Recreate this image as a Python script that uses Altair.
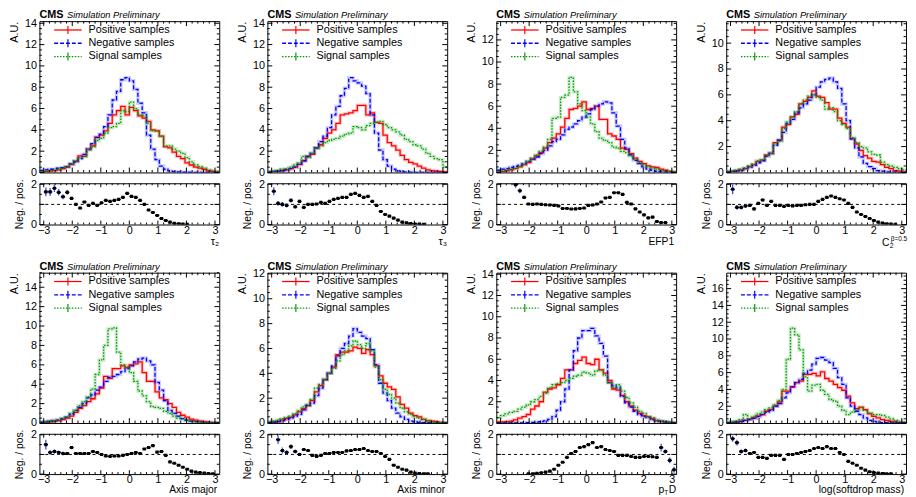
import altair as alt
import pandas as pd

FONT = "Liberation Sans"
RED = "#ff0000"
BLUE = "#0000ff"
GREEN = "#009a00"
RBLUE = "#3355ff"

W = 183
X_DOMAIN = [-3.15, 3.15]
BIN_W = 0.15
BIN_LEFT = [round(-3.15 + BIN_W * k, 3) for k in range(42)]
X_MAJOR = [-3, -2, -1, 0, 1, 2, 3]
X_MINOR = [v / 5 for v in range(-15, 16) if v % 5 != 0]

LEGEND_LABELS = ["Positive samples", "Negative samples", "Signal samples"]

# ---------------- tau2 ----------------
TAU2_POS = [0.05, 0.08, 0.12, 0.18, 0.25, 0.35, 0.5, 0.75, 1.05, 1.55, 1.5, 2.2, 2.5, 3.3, 3.5, 3.9, 4.6, 5.4, 5.8, 6.2, 5.4,
            6.1, 5.8, 5.3, 5.1, 4.8, 4.0, 3.9, 3.4, 2.4, 2.3, 1.9, 1.5, 1.3, 0.9, 0.7, 0.5, 0.4, 0.3, 0.15, 0.1, 0.05]
TAU2_NEG = [0.2, 0.25, 0.3, 0.3, 0.4, 0.45, 0.55, 0.8, 1.0, 1.3, 1.7, 2.2, 2.7, 3.3, 3.6, 4.3, 5.4, 6.8, 7.6, 8.7, 8.9,
            8.6, 7.8, 6.5, 5.6, 3.5, 2.2, 1.2, 0.6, 0.3, 0.15, 0.08, 0.05, 0.03, 0.02, 0.01, 0.01, 0.01, 0.0, 0.0, 0.0, 0.0]
TAU2_SIG = [0.1, 0.12, 0.18, 0.25, 0.3, 0.4, 0.55, 0.8, 1.1, 1.4, 1.5, 2.1, 2.4, 3.0, 3.2, 3.7, 4.2, 4.3, 4.6, 5.8, 5.7,
            6.6, 6.0, 5.4, 5.3, 4.6, 3.9, 3.9, 3.4, 2.5, 2.5, 2.2, 2.0, 1.8, 1.4, 1.0, 0.7, 0.55, 0.4, 0.25, 0.15, 0.1]
TAU2_RATIO = [None, 1.62, 1.62, 1.8, 1.6, 1.38, 1.6, 1.3, 1.0, 0.82, 1.12, 0.95, 1.05, 0.95, 1.08, 1.2, 1.15, 1.2, 1.25, 1.35, 1.55,
              1.4, 1.35, 1.2, 1.0, 0.72, 0.6, 0.45, 0.3, 0.2, 0.12, 0.06, 0.04, 0.02, 0.01, None, None, None, None, None, None, None]
TAU2_ERR = [0, .22, .2, .18, .16, .12, .12, .08, .07, .06, .05, .05, .04, .04, .04, .03, .03, .03, .03, .03, .03,
            .03, .03, .03, .03, .03, .02, .02, .02, .02, .02, .01, .01, .01, .01, .01, .01, .01, .01, .01, .01, .01]

# ---------------- tau3 ----------------
TAU3_POS = [0.05, 0.08, 0.12, 0.18, 0.25, 0.35, 0.5, 0.75, 1.1, 1.5, 1.7, 2.3, 2.6, 3.2, 3.7, 4.0, 4.6, 5.4, 5.5, 5.6, 5.8,
            6.3, 6.3, 5.4, 5.6, 4.7, 4.6, 3.5, 2.8, 2.5, 2.1, 1.6, 1.2, 0.95, 0.8, 0.6, 0.4, 0.25, 0.18, 0.12, 0.1, 0.05]
TAU3_NEG = [0.05, 0.1, 0.12, 0.18, 0.25, 0.35, 0.5, 0.75, 1.1, 1.5, 1.8, 2.3, 2.9, 3.4, 4.2, 5.4, 6.2, 7.2, 7.9, 8.9, 8.6,
            8.4, 8.1, 7.4, 5.4, 3.7, 2.1, 1.2, 0.6, 0.3, 0.15, 0.07, 0.04, 0.02, 0.01, 0.01, 0.0, 0.0, 0.0, 0.0, 0.0, 0.0]
TAU3_SIG = [0.08, 0.12, 0.18, 0.3, 0.35, 0.5, 0.7, 0.9, 1.5, 1.4, 1.8, 2.3, 2.5, 2.8, 3.0, 3.1, 3.2, 3.4, 3.6, 3.7, 4.3,
            4.2, 4.0, 4.4, 4.6, 4.7, 4.8, 4.5, 4.2, 4.0, 3.8, 3.5, 3.1, 2.9, 2.6, 2.5, 2.2, 1.8, 1.5, 1.3, 1.2, 0.5]
TAU3_RATIO = [None, 1.65, 1.05, 1.0, 0.95, 1.2, 0.88, 1.15, 0.85, 1.0, 1.0, 1.02, 1.1, 1.05, 1.15, 1.25, 1.3, 1.35, 1.35, 1.5, 1.55,
              1.45, 1.35, 1.4, 1.15, 0.95, 0.65, 0.5, 0.42, 0.32, 0.22, 0.12, 0.08, 0.05, 0.03, 0.02, 0.01, None, None, None, None, None]
TAU3_ERR = [0, .2, .12, .12, .1, .1, .1, .08, .06, .05, .05, .04, .04, .04, .03, .03, .03, .03, .03, .03, .03,
            .03, .03, .03, .03, .02, .02, .02, .02, .02, .01, .01, .01, .01, .01, .01, .01, .01, .01, .01, .01, .01]

# ---------------- EFP1 ----------------
EFP1_POS = [0.05, 0.08, 0.15, 0.25, 0.35, 0.5, 0.7, 0.9, 1.2, 1.5, 1.8, 2.2, 2.7, 3.1, 3.5, 4.1, 4.9, 5.7, 5.8, 6.0, 6.4,
            5.7, 5.8, 6.0, 4.8, 4.8, 3.5, 3.3, 3.0, 2.2, 2.1, 1.7, 1.3, 1.0, 0.8, 0.6, 0.5, 0.45, 0.3, 0.2, 0.1, 0.05]
EFP1_NEG = [0.2, 0.3, 0.35, 0.45, 0.55, 0.65, 0.8, 1.0, 1.2, 1.4, 1.7, 2.0, 2.4, 2.8, 3.0, 3.4, 3.9, 4.1, 4.4, 4.7, 5.0,
            5.3, 5.7, 6.0, 6.2, 6.4, 6.3, 5.4, 4.2, 3.0, 2.2, 1.6, 1.1, 0.8, 0.5, 0.3, 0.2, 0.1, 0.05, 0.03, 0.02, 0.01]
EFP1_SIG = [0.1, 0.15, 0.2, 0.3, 0.4, 0.55, 0.75, 1.0, 1.3, 1.6, 1.9, 2.3, 3.0, 4.9, 5.0, 6.8, 7.0, 8.6, 7.3, 6.2, 5.6,
            5.0, 4.4, 3.7, 3.1, 2.9, 2.7, 2.3, 2.2, 1.9, 1.8, 1.5, 1.2, 0.9, 0.7, 0.5, 0.4, 0.3, 0.2, 0.15, 0.1, 0.05]
EFP1_RATIO = [None, None, None, None, 1.98, 1.68, 1.35, 1.02, 1.0, 1.02, 1.0, 0.98, 0.97, 0.95, 0.92, 0.8, 0.8, 0.77, 0.78, 0.8, 0.82,
              0.95, 0.97, 1.02, 1.12, 1.32, 1.35, 1.58, 1.58, 1.5, 1.1, 1.02, 0.78, 0.62, 0.48, 0.33, 0.37, 0.15, 0.1, 0.1, None, None]
EFP1_ERR = [0, 0, 0, 0, .15, .12, .08, .05, .04, .04, .03, .03, .03, .03, .03, .03, .03, .03, .03, .03, .03,
            .03, .03, .03, .03, .03, .03, .03, .03, .03, .03, .03, .03, .03, .03, .03, .03, .02, .02, .02, .01, .01]

# ---------------- C2 beta=0.5 ----------------
C2_POS = [0.05, 0.08, 0.12, 0.2, 0.3, 0.45, 0.6, 0.85, 0.95, 1.35, 1.45, 2.3, 2.5, 3.5, 3.7, 4.3, 4.5, 5.3, 5.5, 5.8, 6.3,
          5.9, 5.8, 5.4, 4.9, 4.9, 4.2, 3.8, 3.5, 2.6, 2.2, 1.7, 1.3, 1.1, 0.85, 0.8, 0.6, 0.4, 0.3, 0.15, 0.1, 0.05]
C2_NEG = [0.05, 0.08, 0.12, 0.18, 0.28, 0.4, 0.55, 0.75, 0.9, 1.25, 1.5, 2.1, 2.5, 3.1, 3.8, 4.1, 4.6, 5.0, 5.3, 5.6, 6.0,
          6.6, 7.0, 7.2, 7.3, 7.0, 6.5, 5.3, 4.0, 2.6, 1.9, 1.2, 0.7, 0.45, 0.3, 0.15, 0.1, 0.05, 0.03, 0.02, 0.01, 0.01]
C2_SIG = [0.1, 0.12, 0.18, 0.25, 0.35, 0.5, 0.65, 0.9, 1.0, 1.3, 1.5, 2.2, 2.4, 3.4, 3.9, 4.3, 4.7, 5.3, 5.6, 5.9, 6.0,
          5.8, 5.6, 4.9, 5.0, 4.7, 4.0, 3.7, 3.4, 2.7, 2.3, 2.0, 1.9, 1.6, 1.4, 1.35, 0.8, 0.6, 0.5, 0.4, 0.3, 0.2]
C2_RATIO = [None, 1.75, 0.85, 0.85, 0.92, 0.95, 0.78, 1.05, 1.22, 0.95, 1.15, 0.95, 0.95, 0.9, 0.95, 0.92, 0.95, 0.95, 0.98, 1.0, 1.0,
            1.15, 1.25, 1.35, 1.42, 1.35, 1.28, 1.22, 1.05, 0.85, 0.62, 0.5, 0.4, 0.3, 0.2, 0.12, 0.07, 0.04, 0.02, 0.01, None, None]
C2_ERR = [0, .25, .12, .1, .1, .08, .08, .07, .06, .05, .05, .04, .04, .03, .03, .03, .03, .03, .03, .03, .03,
          .03, .03, .03, .03, .03, .03, .03, .03, .02, .02, .02, .02, .02, .01, .01, .01, .01, .01, .01, .01, .01]

# ---------------- Axis major ----------------
AXMAJ_POS = [0.05, 0.08, 0.12, 0.18, 0.25, 0.35, 0.5, 0.7, 1.1, 1.5, 1.8, 2.2, 2.5, 3.0, 3.6, 4.8, 4.6, 5.6, 5.6, 5.9, 5.7,
             6.0, 6.1, 6.3, 5.2, 4.3, 4.3, 3.2, 2.6, 2.4, 2.0, 1.6, 1.1, 0.8, 0.6, 0.4, 0.3, 0.2, 0.15, 0.1, 0.05, 0.03]
AXMAJ_NEG = [0.08, 0.12, 0.18, 0.25, 0.3, 0.45, 0.6, 0.9, 1.3, 1.6, 2.0, 2.6, 2.9, 3.4, 3.7, 4.3, 4.7, 4.8, 5.0, 5.3, 5.6,
             5.9, 6.3, 6.6, 6.7, 6.4, 6.0, 4.2, 3.4, 2.3, 1.3, 1.0, 0.7, 0.45, 0.3, 0.2, 0.15, 0.1, 0.05, 0.03, 0.02, 0.01]
AXMAJ_SIG = [0.08, 0.12, 0.18, 0.25, 0.35, 0.5, 0.6, 1.0, 1.3, 1.8, 2.2, 2.7, 3.5, 5.0, 6.5, 8.0, 9.7, 9.8, 7.3, 6.0, 5.8,
             5.2, 4.3, 3.3, 2.8, 2.2, 1.7, 1.6, 1.5, 1.2, 1.0, 0.7, 0.5, 0.4, 0.3, 0.2, 0.15, 0.1, 0.05, 0.03, 0.02, 0.01]
AXMAJ_RATIO = [None, 1.5, 1.1, 1.15, 1.1, 1.05, 1.05, 1.35, 1.05, 1.05, 1.05, 1.05, 1.15, 1.1, 1.0, 0.92, 0.9, 0.92, 0.92, 0.95, 1.0,
               1.05, 1.1, 1.05, 1.28, 1.35, 1.45, 1.12, 1.15, 0.95, 0.62, 0.55, 0.45, 0.35, 0.25, 0.15, 0.1, 0.08, 0.05, 0.03, 0.02, None]
AXMAJ_ERR = [0, .25, .12, .12, .1, .1, .08, .08, .06, .05, .05, .04, .04, .03, .03, .03, .03, .03, .03, .03, .03,
             .03, .03, .03, .03, .03, .03, .03, .03, .02, .02, .02, .02, .02, .01, .01, .01, .01, .01, .01, .01, .01]

# ---------------- Axis minor ----------------
AXMIN_POS = [0.05, 0.08, 0.12, 0.25, 0.35, 0.45, 0.65, 0.9, 1.15, 1.4, 1.8, 2.5, 3.0, 3.5, 4.0, 4.5, 5.5, 5.7, 5.7, 5.8, 6.1,
             6.0, 5.6, 5.9, 5.5, 4.6, 3.8, 3.2, 2.9, 2.7, 2.1, 1.5, 1.2, 0.8, 0.6, 0.5, 0.3, 0.2, 0.15, 0.1, 0.05, 0.03]
AXMIN_NEG = [0.05, 0.08, 0.12, 0.2, 0.3, 0.4, 0.55, 0.7, 1.05, 1.4, 1.6, 2.2, 2.8, 3.5, 4.0, 4.6, 5.4, 6.0, 6.4, 7.0, 7.6,
             7.3, 7.0, 6.8, 5.9, 4.7, 3.2, 2.4, 1.8, 1.2, 0.8, 0.5, 0.3, 0.15, 0.1, 0.05, 0.03, 0.02, 0.01, 0.01, 0.0, 0.0]
AXMIN_SIG = [0.1, 0.15, 0.25, 0.35, 0.45, 0.55, 0.75, 1.0, 1.3, 1.5, 1.9, 2.8, 3.1, 3.5, 4.0, 4.4, 5.0, 5.5, 5.8, 6.2, 6.6,
             6.3, 6.0, 6.4, 5.8, 4.5, 3.5, 2.7, 2.3, 2.0, 1.6, 1.2, 0.9, 0.7, 0.5, 0.4, 0.3, 0.2, 0.1, 0.05, 0.03, 0.02]
AXMIN_RATIO = [None, None, 1.75, 1.2, 1.1, 1.4, 1.15, 1.0, 1.25, 1.2, 0.95, 0.9, 0.95, 1.05, 1.05, 1.1, 1.1, 1.1, 1.18, 1.2, 1.25,
               1.25, 1.3, 1.2, 1.15, 1.15, 1.05, 0.9, 0.75, 0.45, 0.35, 0.25, 0.2, 0.1, 0.05, 0.03, 0.02, 0.01, None, None, None, None]
AXMIN_ERR = [0, 0, .22, .15, .12, .12, .1, .08, .07, .06, .05, .04, .04, .03, .03, .03, .03, .03, .03, .03, .03,
             .03, .03, .03, .03, .03, .03, .03, .03, .02, .02, .02, .02, .02, .01, .01, .01, .01, .01, .01, .01, .01]

# ---------------- pT D ----------------
PTD_POS = [0.1, 0.1, 0.12, 0.18, 0.3, 0.45, 0.6, 0.8, 1.3, 1.6, 2.0, 2.9, 3.2, 3.3, 3.6, 4.2, 5.0, 5.0, 5.6, 5.9, 6.2,
           5.6, 5.5, 6.0, 5.0, 4.7, 4.0, 3.2, 3.1, 2.6, 2.0, 1.6, 1.2, 0.9, 0.7, 0.6, 0.4, 0.2, 0.15, 0.1, 0.05, 0.02]
PTD_NEG = [0.0, 0.0, 0.0, 0.0, 0.0, 0.01, 0.02, 0.03, 0.05, 0.08, 0.12, 0.2, 0.35, 0.6, 1.2, 2.0, 3.2, 5.0, 6.8, 8.0, 8.7,
           8.7, 8.9, 8.2, 7.5, 6.3, 3.8, 3.5, 3.3, 2.5, 1.9, 1.5, 1.1, 0.8, 0.6, 0.5, 0.3, 0.2, 0.15, 0.1, 0.05, 0.02]
PTD_SIG = [0.5, 0.7, 0.85, 1.0, 1.1, 1.3, 1.5, 1.7, 2.0, 2.2, 2.5, 2.8, 3.3, 3.6, 3.7, 3.8, 4.0, 4.2, 4.4, 4.5, 4.8,
           4.7, 4.5, 4.9, 5.0, 4.5, 3.8, 3.3, 3.6, 3.0, 2.4, 1.9, 1.5, 1.1, 0.9, 0.6, 0.5, 0.3, 0.2, 0.1, 0.05, 0.03]
PTD_RATIO = [None, None, None, None, None, None, None, 0.01, 0.02, 0.04, 0.07, 0.1, 0.15, 0.25, 0.45, 0.6, 0.85, 1.05, 1.15, 1.35, 1.4,
             1.5, 1.6, 1.35, 1.4, 1.25, 1.2, 1.15, 0.95, 0.95, 0.95, 0.9, 0.85, 0.85, 0.9, 0.9, 0.88, 0.85, 1.35, 1.15, 0.7, 0.22]
PTD_ERR = [0, 0, 0, 0, 0, 0, 0, .01, .01, .01, .01, .02, .02, .02, .02, .03, .03, .03, .03, .03, .03,
           .03, .03, .03, .03, .03, .03, .03, .03, .03, .03, .03, .03, .04, .04, .05, .06, .08, .2, .12, .15, .15]

# ---------------- log(softdrop mass) ----------------
SD_POS = [0.05, 0.08, 0.12, 0.2, 0.3, 0.45, 0.6, 0.85, 1.0, 1.4, 1.6, 2.0, 2.5, 3.8, 3.8, 4.3, 4.8, 5.0, 5.8, 5.8, 5.9,
          5.6, 6.1, 5.3, 5.0, 4.6, 4.2, 3.9, 3.2, 2.4, 1.7, 1.9, 1.6, 1.1, 0.8, 0.6, 0.4, 0.3, 0.2, 0.1, 0.05, 0.03]
SD_NEG = [0.05, 0.08, 0.12, 0.2, 0.3, 0.4, 0.55, 0.75, 1.0, 1.3, 1.5, 2.0, 2.3, 3.0, 3.6, 4.3, 4.8, 5.2, 5.9, 6.3, 7.0,
          7.7, 7.8, 7.5, 7.2, 6.5, 5.4, 4.6, 3.0, 2.0, 1.4, 1.0, 0.6, 0.3, 0.2, 0.1, 0.05, 0.03, 0.02, 0.01, 0.01, 0.0]
SD_SIG = [0.1, 0.15, 0.2, 0.4, 1.0, 0.5, 0.8, 1.1, 1.3, 1.6, 1.8, 2.2, 2.7, 4.0, 7.6, 11.3, 10.5, 8.7, 5.5, 3.8, 4.5,
          4.6, 3.9, 3.4, 2.8, 2.6, 2.0, 1.5, 1.0, 1.3, 1.6, 1.8, 1.5, 1.2, 1.0, 1.0, 0.9, 0.7, 0.5, 0.3, 0.2, 0.1]
SD_RATIO = [None, 1.8, 1.6, 1.15, 1.2, 1.05, 1.1, 0.85, 0.85, 0.8, 0.95, 0.95, 0.95, 0.75, 1.0, 1.0, 1.05, 1.1, 1.15, 1.2, 1.3,
            1.35, 1.3, 1.4, 1.3, 1.3, 1.1, 1.0, 0.65, 0.55, 0.45, 0.3, 0.2, 0.12, 0.08, 0.05, 0.03, 0.02, 0.01, None, None, None]
SD_ERR = [0, .15, .15, .12, .1, .08, .07, .06, .05, .05, .04, .04, .03, .03, .03, .03, .03, .03, .03, .03, .03,
          .03, .03, .03, .03, .03, .03, .03, .03, .02, .02, .02, .02, .02, .01, .01, .01, .01, .01, .01, .01, .01]

PANELS = [
    dict(pos=TAU2_POS, neg=TAU2_NEG, sig=TAU2_SIG, ratio=TAU2_RATIO, err=TAU2_ERR, ymax=14.2, ytop=14, xtitle="tau2"),
    dict(pos=TAU3_POS, neg=TAU3_NEG, sig=TAU3_SIG, ratio=TAU3_RATIO, err=TAU3_ERR, ymax=14.2, ytop=14, xtitle="tau3"),
    dict(pos=EFP1_POS, neg=EFP1_NEG, sig=EFP1_SIG, ratio=EFP1_RATIO, err=EFP1_ERR, ymax=13.7, ytop=12, xtitle="EFP1"),
    dict(pos=C2_POS, neg=C2_NEG, sig=C2_SIG, ratio=C2_RATIO, err=C2_ERR, ymax=11.7, ytop=10, xtitle="C2"),
    dict(pos=AXMAJ_POS, neg=AXMAJ_NEG, sig=AXMAJ_SIG, ratio=AXMAJ_RATIO, err=AXMAJ_ERR, ymax=15.5, ytop=14, xtitle="Axis major"),
    dict(pos=AXMIN_POS, neg=AXMIN_NEG, sig=AXMIN_SIG, ratio=AXMIN_RATIO, err=AXMIN_ERR, ymax=12.1, ytop=12, xtitle="Axis minor"),
    dict(pos=PTD_POS, neg=PTD_NEG, sig=PTD_SIG, ratio=PTD_RATIO, err=PTD_ERR, ymax=14.15, ytop=14, xtitle="ptD"),
    dict(pos=SD_POS, neg=SD_NEG, sig=SD_SIG, ratio=SD_RATIO, err=SD_ERR, ymax=17.9, ytop=16, xtitle="log(softdrop mass)"),
]
# left room (px) reserved before each column's frame
COL_LEFT = [33, 33, 34, 35]

SERIES = [("pos", RED, None), ("neg", BLUE, [4, 2]), ("sig", GREEN, [1.5, 1.5])]
ONE = pd.DataFrame({"a": [0]})


def txt(s, x, y, size=10.5, align="left", baseline="alphabetic", **kw):
    return alt.Chart(ONE).mark_text(text=s, align=align, baseline=baseline, fontSize=size,
                                    font=FONT, color="black", **kw).encode(x=alt.value(x), y=alt.value(y))


def spacer(left, h):
    return alt.Chart(ONE).mark_rule(opacity=0, strokeWidth=1).encode(
        x=alt.value(-left), x2=alt.value(-left + 1), y=alt.value(h / 2))


def tick_layers(xs, ys, xaxis, yaxis, h, y_major, y_minor, xlen=5, xmin=2.5, ylen=5, ymin=2.5):
    out = []
    for vals, ln in ((X_MAJOR, xlen), (X_MINOR, xmin)):
        b = alt.Chart(pd.DataFrame({"t": vals}))
        out.append(b.mark_rule(color="black", strokeWidth=1).encode(
            x=alt.X("t:Q", scale=xs, axis=xaxis), y=alt.value(h), y2=alt.value(h - ln)))
        out.append(b.mark_rule(color="black", strokeWidth=1).encode(
            x=alt.X("t:Q", scale=xs, axis=xaxis), y=alt.value(0), y2=alt.value(ln)))
    for vals, ln in ((y_major, ylen), (y_minor, ymin)):
        b = alt.Chart(pd.DataFrame({"t": vals}))
        out.append(b.mark_rule(color="black", strokeWidth=1).encode(
            y=alt.Y("t:Q", scale=ys, axis=yaxis), x=alt.value(0), x2=alt.value(ln)))
        out.append(b.mark_rule(color="black", strokeWidth=1).encode(
            y=alt.Y("t:Q", scale=ys, axis=yaxis), x=alt.value(W), x2=alt.value(W - ln)))
    return out


def main_chart(p, mh, left):
    xs = alt.Scale(domain=X_DOMAIN, nice=False, zero=False)
    ys = alt.Scale(domain=[0, p["ymax"]], nice=False, zero=False)
    y_major = list(range(0, p["ytop"] + 1, 2))
    y_minor = [v / 2 for v in range(0, int(p["ymax"] * 2) + 1) if v % 4 != 0]
    yaxis = alt.Axis(values=y_major, title="A.U.", titleAnchor="end", ticks=False, tickSize=0, domain=False, grid=False,
                     labelPadding=3, labelFontSize=11, titleFontSize=11, titleFontWeight="normal",
                     titlePadding=5, labelColor="black", titleColor="black")
    halos, lines = [], []
    for i, (key, color, dash) in enumerate(SERIES):
        vals = p[key]
        df = pd.DataFrame({"x": BIN_LEFT + [3.15], "v": list(vals) + [vals[-1]]})
        base = alt.Chart(df)
        halos.append(base.mark_line(interpolate="step-after", color=color, strokeWidth=3.5, opacity=0.2, clip=True).encode(
            x=alt.X("x:Q", scale=xs, axis=None), y=alt.Y("v:Q", scale=ys, axis=yaxis)))
        kw = dict(interpolate="step-after", color=color, strokeWidth=1.3, clip=True)
        if dash:
            kw["strokeDash"] = dash
        lines.append(base.mark_line(**kw).encode(
            x=alt.X("x:Q", scale=xs, axis=None), y=alt.Y("v:Q", scale=ys, axis=yaxis)))
    legend = []
    for i, ((key, color, dash), lab) in enumerate(zip(SERIES, LEGEND_LABELS)):
        yy = 9 + 13.5 * i
        kw = dict(color=color, strokeWidth=1.3)
        if dash:
            kw["strokeDash"] = dash
        legend.append(alt.Chart(ONE).mark_rule(**kw).encode(x=alt.value(15), x2=alt.value(43), y=alt.value(yy)))
        legend.append(alt.Chart(ONE).mark_rule(color=color, strokeWidth=1.2).encode(
            x=alt.value(29), y=alt.value(yy - 4), y2=alt.value(yy + 4)))
        legend.append(txt(lab, 50, yy, size=11, baseline="middle"))
    cms = [txt("CMS", 0, -3, size=11, fontWeight="bold"),
           txt("Simulation Preliminary", 28, -3, size=9.5, fontStyle="italic")]
    layers = ([spacer(left, mh)] + halos + lines + tick_layers(xs, ys, None, yaxis, mh, y_major, y_minor)
              + legend + cms)
    return alt.layer(*layers).properties(width=W, height=mh)


def xtitle_layers(name, rh, dy):
    y = rh + dy
    if name == "tau2":
        return [txt("τ₂", W, y, size=11, align="right")]
    if name == "tau3":
        return [txt("τ₃", W, y, size=11, align="right")]
    if name == "C2":
        return [txt("C", W - 17, y + 1, size=10.5, align="right"),
                txt("2", W - 16.5, y + 3, size=7, align="left"),
                txt("β=0.5", W + 1, y - 4, size=6.5, align="right")]
    if name == "ptD":
        return [txt("D", W, y, size=10.5, align="right"),
                txt("T", W - 8, y + 2, size=6.5, align="right"),
                txt("p", W - 12, y, size=10.5, align="right")]
    return [txt(name, W - 2, y, size=10.5, align="right")]


def ratio_chart(p, rh, dy):
    xs = alt.Scale(domain=X_DOMAIN, nice=False, zero=False)
    ys = alt.Scale(domain=[0, 2.05], nice=False, zero=False)
    rows = []
    for k in range(42):
        r = p["ratio"][k]
        if r is None:
            continue
        e = p["err"][k]
        rows.append(dict(c=BIN_LEFT[k] + BIN_W / 2, l=BIN_LEFT[k], r=BIN_LEFT[k] + BIN_W,
                         y=r, lo=max(r - e, 0), hi=r + e))
    df = pd.DataFrame(rows)
    yaxis = alt.Axis(values=[0, 1, 2], format="d", title="Neg. / pos.", ticks=False, tickSize=0, domain=False,
                     grid=False, labelPadding=3, labelFontSize=11, titleFontSize=10.5, titleFontWeight="normal",
                     titlePadding=6, labelColor="black", titleColor="black")
    xaxis = alt.Axis(values=X_MAJOR, format="d", title=None, ticks=False, tickSize=0, domain=False, grid=False,
                     labelPadding=0, labelFontSize=11, labelColor="black")
    base = alt.Chart(df)
    one = alt.Chart(pd.DataFrame({"x0": [X_DOMAIN[0]], "x1": [X_DOMAIN[1]], "y": [1.0]})).mark_rule(
        color="black", strokeWidth=1, strokeDash=[3, 3]).encode(
        x=alt.X("x0:Q", scale=xs, axis=xaxis), x2="x1:Q", y=alt.Y("y:Q", scale=ys, axis=yaxis))
    err = base.mark_rule(color=RBLUE, strokeWidth=1.3, clip=True).encode(
        x=alt.X("c:Q", scale=xs, axis=xaxis), y=alt.Y("lo:Q", scale=ys, axis=yaxis), y2="hi:Q")
    hbar = base.mark_rule(color="black", strokeWidth=1.3, clip=True).encode(
        x=alt.X("l:Q", scale=xs, axis=xaxis), x2="r:Q", y=alt.Y("y:Q", scale=ys, axis=yaxis))
    pts = base.mark_square(color="black", size=10, opacity=1, clip=True).encode(
        x=alt.X("c:Q", scale=xs, axis=xaxis), y=alt.Y("y:Q", scale=ys, axis=yaxis))
    ticks = tick_layers(xs, ys, xaxis, yaxis, rh, [0, 1, 2], [0.5, 1.5], xlen=4, xmin=2, ylen=5, ymin=2.5)
    layers = [one, err, hbar, pts] + ticks + xtitle_layers(p["xtitle"], rh, dy)
    return alt.layer(*layers).properties(width=W, height=rh)


def row(panels, mh, rh, dy):
    charts = ([main_chart(p, mh, COL_LEFT[i]) for i, p in enumerate(panels)]
              + [ratio_chart(p, rh, dy) for p in panels])
    return alt.concat(*charts, columns=4, spacing={"row": -1, "column": 14}, align="each")


chart = alt.vconcat(row(PANELS[:4], 154, 42, 21), row(PANELS[4:], 153, 41, 19), spacing=10).properties(
    padding={"left": -2, "top": -4, "right": 0, "bottom": 0}
).configure(font=FONT).configure_view(stroke="black", strokeWidth=1)

chart.save("out.html", embed_options={"renderer": "svg", "actions": False})
